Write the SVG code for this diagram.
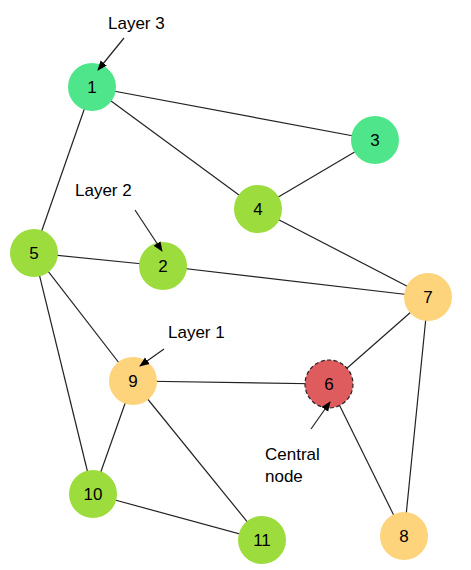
<svg xmlns="http://www.w3.org/2000/svg" width="471" height="570" viewBox="0 0 471 570">
<defs>
<marker id="ah" markerWidth="10" markerHeight="10" refX="9" refY="5" orient="auto" markerUnits="userSpaceOnUse">
<path d="M0,1 L10,5 L0,9 Z" fill="#000"/>
</marker>
<style>
.e{stroke:#222;stroke-width:1.2;fill:none}
.a{stroke:#222;stroke-width:1.2;fill:none;marker-end:url(#ah)}
.t{font-family:"Liberation Sans",Arial,sans-serif;font-size:17px;fill:#000}
.n{font-family:"Liberation Sans",Arial,sans-serif;font-size:17px;fill:#000;text-anchor:middle;dominant-baseline:central}
.l3{fill:#4ee58b}
.l2{fill:#9cdc3d}
.l1{fill:#fdd47c}
.c{fill:#df5c5e;stroke:#222;stroke-width:1.2;stroke-dasharray:4 2.5}
</style>
</defs>
<rect width="471" height="570" fill="#fff"/>
<g id="connectors">
<line class="e" x1="92" y1="87" x2="375" y2="140"/>
<line class="e" x1="92" y1="87" x2="258" y2="209"/>
<line class="e" x1="92" y1="87" x2="34" y2="253"/>
<line class="e" x1="258" y1="209" x2="375" y2="140"/>
<line class="e" x1="258" y1="209" x2="428" y2="297"/>
<line class="e" x1="34" y1="253" x2="163" y2="266"/>
<line class="e" x1="163" y1="266" x2="428" y2="297"/>
<line class="e" x1="34" y1="253" x2="133" y2="381"/>
<line class="e" x1="34" y1="253" x2="93" y2="494"/>
<line class="e" x1="133" y1="381" x2="93" y2="494"/>
<line class="e" x1="133" y1="381" x2="329" y2="384"/>
<line class="e" x1="133" y1="381" x2="262" y2="540"/>
<line class="e" x1="93" y1="494" x2="262" y2="540"/>
<line class="e" x1="329" y1="384" x2="428" y2="297"/>
<line class="e" x1="329" y1="384" x2="404" y2="536"/>
<line class="e" x1="428" y1="297" x2="404" y2="536"/>
</g>
<g id="n1"><circle class="l3" cx="92" cy="87" r="24"/><text class="n" x="92" y="87">1</text></g>
<g id="n3"><circle class="l3" cx="375" cy="140" r="24"/><text class="n" x="375" y="140">3</text></g>
<g id="n4"><circle class="l2" cx="258" cy="209" r="24"/><text class="n" x="258" y="209">4</text></g>
<g id="n5"><circle class="l2" cx="34" cy="253" r="24"/><text class="n" x="34" y="253">5</text></g>
<g id="n2"><circle class="l2" cx="163" cy="266" r="24"/><text class="n" x="163" y="266">2</text></g>
<g id="n7"><circle class="l1" cx="428" cy="297" r="24"/><text class="n" x="428" y="297">7</text></g>
<g id="n9"><circle class="l1" cx="133" cy="381" r="24"/><text class="n" x="133" y="381">9</text></g>
<g id="n6"><circle class="c" cx="329" cy="384" r="24"/><text class="n" x="329" y="384">6</text></g>
<g id="n10"><circle class="l2" cx="93" cy="494" r="24"/><text class="n" x="93" y="494">10</text></g>
<g id="n11"><circle class="l2" cx="262" cy="540" r="24"/><text class="n" x="262" y="540">11</text></g>
<g id="n8"><circle class="l1" cx="404" cy="536" r="24"/><text class="n" x="404" y="536">8</text></g>
<g id="labels">
<text class="t" x="108" y="29">Layer 3</text>
<line class="a" x1="124" y1="38" x2="98" y2="70"/>
<text class="t" x="75" y="196">Layer 2</text>
<line class="a" x1="135" y1="210" x2="162" y2="251"/>
<text class="t" x="168" y="338">Layer 1</text>
<line class="a" x1="164" y1="349" x2="140" y2="366"/>
<text class="t" x="265" y="460">Central</text>
<text class="t" x="265" y="482">node</text>
<line class="a" x1="311" y1="429" x2="330" y2="402"/>
</g>
</svg>
